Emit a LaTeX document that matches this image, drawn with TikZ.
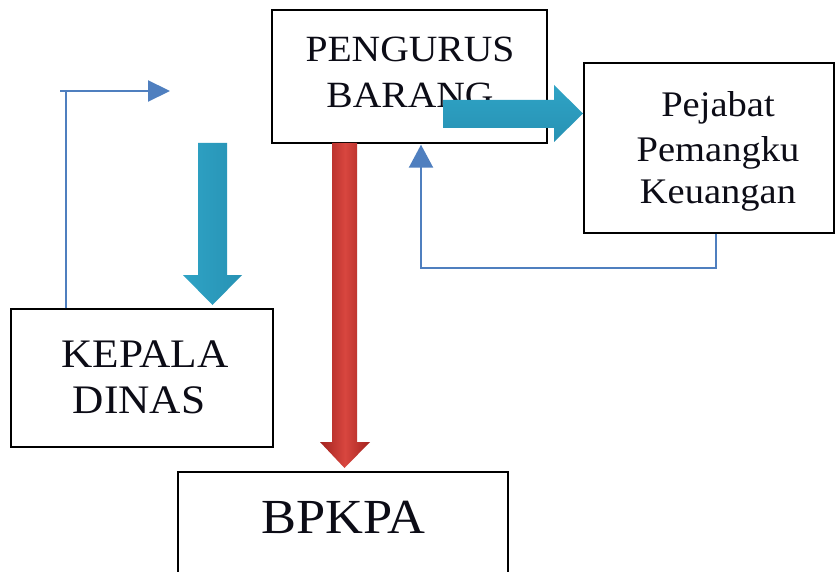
\documentclass[tikz,border=0pt]{standalone}
\usepackage{fontspec}
\setmainfont{Liberation Serif}
\usetikzlibrary{arrows.meta}
\definecolor{thinblue}{HTML}{4F7FBF}
\definecolor{tealA}{HTML}{2FA3C5}
\definecolor{tealB}{HTML}{2792B4}
\definecolor{redA}{HTML}{D8463F}
\definecolor{redB}{HTML}{A3231F}
\definecolor{inkc}{HTML}{0C0C16}
\newcommand{\wtxt}[1]{\scalebox{1.07}[1]{#1}}
\begin{document}
\begin{tikzpicture}[x=1pt,y=-1pt,
  box/.style={draw=black, line width=1.4pt, rectangle, inner sep=0pt, fill=white},
  lbl/.style={anchor=base, inner sep=0pt, text=inkc},
  thinline/.style={draw=thinblue, line width=2.2pt},
  tealdown/.style={left color=tealA, right color=tealB, draw=none},
  tealright/.style={top color=tealA, bottom color=tealB, draw=none},
  redarrow/.style={left color=redB, right color=redB, middle color=redA, draw=none}
]
\useasboundingbox (0,0) rectangle (837,572);
\clip (0,0) rectangle (837,572);
\fill[white] (0,0) rectangle (837,572);

% boxes
\node[box, minimum width=275pt, minimum height=133pt] (pb) at (409.5,76.5) {};
\node[box, minimum width=250pt, minimum height=170pt] (pk) at (709,148) {};
\node[box, minimum width=262pt, minimum height=138pt] (kd) at (142,378) {};
\node[box, minimum width=330pt, minimum height=128pt] (bp) at (343,536) {};

% texts
\node[lbl, font=\fontsize{37}{43}\selectfont] (pb1) at (410,62) {\wtxt{PENGURUS}};
\node[lbl, font=\fontsize{37}{43}\selectfont] (pb2) at (410,108) {\wtxt{BARANG}};
\node[lbl, font=\fontsize{36}{43}\selectfont] (pk1) at (718,117) {\wtxt{Pejabat}};
\node[lbl, font=\fontsize{36}{43}\selectfont] (pk2) at (718,161) {\wtxt{Pemangku}};
\node[lbl, font=\fontsize{36}{43}\selectfont] (pk3) at (718,204) {\wtxt{Keuangan}};
\node[lbl, font=\fontsize{40.5}{46}\selectfont] (kd1) at (145,367) {\wtxt{KEPALA}};
\node[lbl, font=\fontsize{40.5}{46}\selectfont] (kd2) at (139,413) {\wtxt{DINAS}};
\node[lbl, font=\fontsize{49}{52}\selectfont] (bp1) at (343.5,533) {\wtxt{BPKPA}};

% thin connectors
\coordinate (ta) at (60,91);
\coordinate (tb) at (170,91);
\draw[thinline] ([xshift=-76pt]kd.north) -- ++(0,-218);
\draw[thinline, -{Triangle[length=22pt,width=21pt]}] (ta) -- (tb);
\draw[thinline, -{Triangle[length=23pt,width=24pt]}] ([xshift=7pt]pk.south) -- ++(0,34) -| ([xshift=11.5pt,yshift=-1pt]pb.south);

% block arrows
\path[tealdown] (198,143) -- (227,143) -- (227,275) -- (242,275) -- (212.5,305) -- (183,275) -- (198,275) -- cycle;
\path[redarrow] (332,143) -- (357,143) -- (357,442) -- (370,442) -- (344.5,468) -- (320,442) -- (332,442) -- cycle;
\path[tealright] (443,100) -- (554,100) -- (554,85) -- (583,113.5) -- (554,142) -- (554,128) -- (443,128) -- cycle;
\end{tikzpicture}
\end{document}
